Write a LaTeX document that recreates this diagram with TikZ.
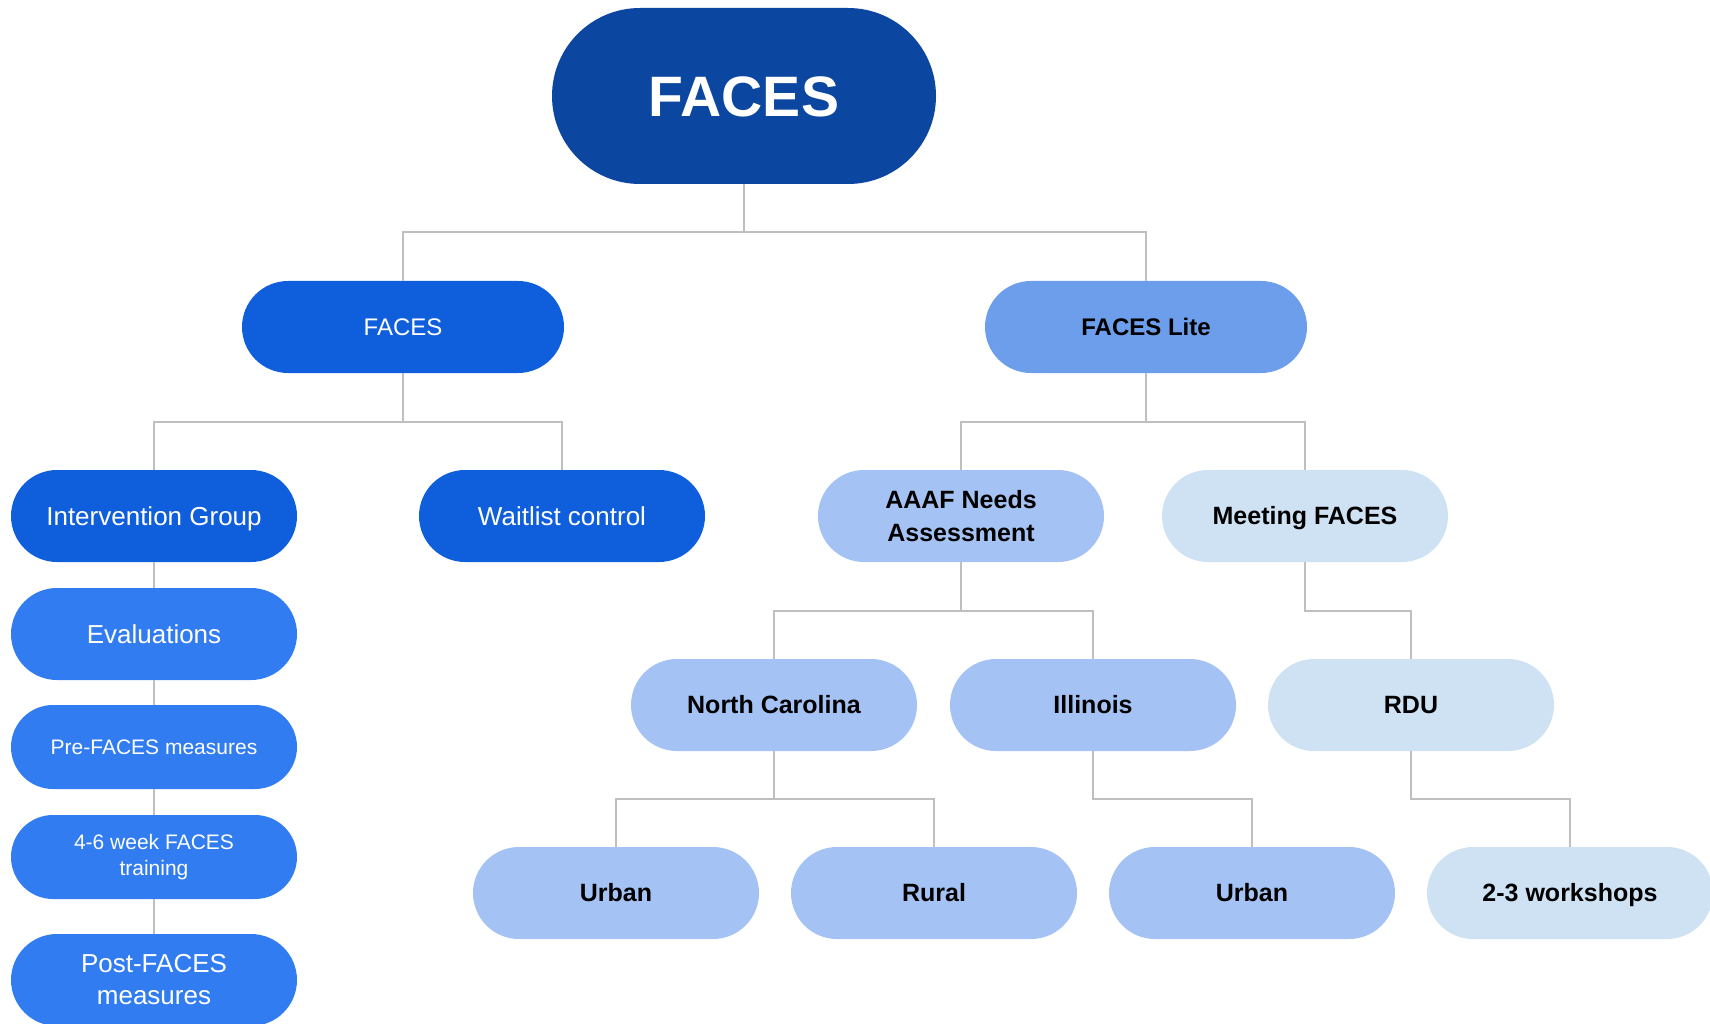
\documentclass[tikz,border=0pt]{standalone}
\usepackage{fontspec}
\setmainfont{Liberation Sans}
\usetikzlibrary{calc}
\definecolor{rootblue}{HTML}{0B47A1}
\definecolor{groupblue}{HTML}{0F5FDC}
\definecolor{stepblue}{HTML}{317CF1}
\definecolor{liteblue}{HTML}{6D9EEB}
\definecolor{softblue}{HTML}{A4C2F4}
\definecolor{paleblue}{HTML}{CFE2F3}
\definecolor{linkgray}{HTML}{BFBFBF}
\begin{document}
\begin{tikzpicture}[x=1pt,y=-1pt,
  pill/.style={rounded corners=46pt, minimum width=286pt, minimum height=92pt,
               inner sep=0pt, align=center, text depth=0pt},
  % single-line labels are centred on their capital height
  fs/.style 2 args={font=#1\fontsize{#2}{#2}\selectfont, text height=0.716*#2pt},
  twolines/.style={text height={}, text depth={}},
  slim/.style={pill, rounded corners=42pt, minimum height=84pt},
  wide/.style={minimum width=322pt},
  darknode/.style={pill, fill=groupblue, text=white, fs={}{26}},
  stepnode/.style={pill, fill=stepblue, text=white, fs={}{26}},
  smallstep/.style={stepnode, slim, fs={}{21}},
  litenode/.style={pill, fill=liteblue, text=black, fs={\bfseries}{24}},
  softnode/.style={pill, fill=softblue, text=black, fs={\bfseries}{25}},
  palenode/.style={pill, fill=paleblue, text=black, fs={\bfseries}{25}},
  link/.style={draw=linkgray, line width=2pt},
  tree/.style={to path={(\tikztostart.south) |- ($(\tikztostart.south)!0.5!(\tikztotarget.north)$) -| (\tikztotarget.north)}}
]
\useasboundingbox (0,0) rectangle (1710,1024);

% root
\node[pill, fill=rootblue, text=white, rounded corners=88pt, minimum width=384pt,
      minimum height=176pt, font=\bfseries\fontsize{57}{60}\selectfont, text height=40.8pt]
      (root) at (744,96) {FACES};

% second level
\node[darknode, wide, font=\fontsize{24}{30}\selectfont, text height=17.2pt] (faces) at (403,327) {FACES};
\node[litenode, wide] (lite) at (1146,327) {FACES Lite};

% third level
\node[darknode] (ig) at (154,516) {Intervention Group};
\node[darknode] (wl) at (562,516) {Waitlist control};
\node[softnode, twolines, font=\bfseries\fontsize{25}{33}\selectfont] (aaaf) at (961,516) {AAAF Needs\\Assessment};
\node[palenode] (meet) at (1305,516) {Meeting FACES};

% intervention chain
\node[stepnode] (eval) at (154,634) {Evaluations};
\node[smallstep] (pre) at (154,747) {Pre-FACES measures};
\node[smallstep, twolines, font=\fontsize{21}{26}\selectfont] (train) at (154,857) {4-6 week FACES\\training};
\node[stepnode, twolines, font=\fontsize{26}{32}\selectfont] (post) at (154,980) {Post-FACES\\measures};

% fourth level
\node[softnode] (nc) at (774,705) {North Carolina};
\node[softnode] (il) at (1093,705) {Illinois};
\node[palenode] (rdu) at (1411,705) {RDU};

% fifth level
\node[softnode] (urbanA) at (616,893) {Urban};
\node[softnode] (rural) at (934,893) {Rural};
\node[softnode] (urbanB) at (1252,893) {Urban};
\node[palenode] (ws) at (1570,893) {2-3 workshops};

% tree connectors
\draw[link] (root) to[tree] (faces);
\draw[link] (root) to[tree] (lite);
\draw[link] (faces) to[tree] (ig);
\draw[link] (faces) to[tree] (wl);
\draw[link] (lite) to[tree] (aaaf);
\draw[link] (lite) to[tree] (meet);
\draw[link] (aaaf) to[tree] (nc);
\draw[link] (aaaf) to[tree] (il);
\draw[link] (meet) to[tree] (rdu);
\draw[link] (nc) to[tree] (urbanA);
\draw[link] (nc) to[tree] (rural);
\draw[link] (il) to[tree] (urbanB);
\draw[link] (rdu) to[tree] (ws);

% intervention chain connectors
\draw[link] (ig.south) -- (eval.north);
\draw[link] (eval.south) -- (pre.north);
\draw[link] (pre.south) -- (train.north);
\draw[link] (train.south) -- (post.north);
\end{tikzpicture}
\end{document}
